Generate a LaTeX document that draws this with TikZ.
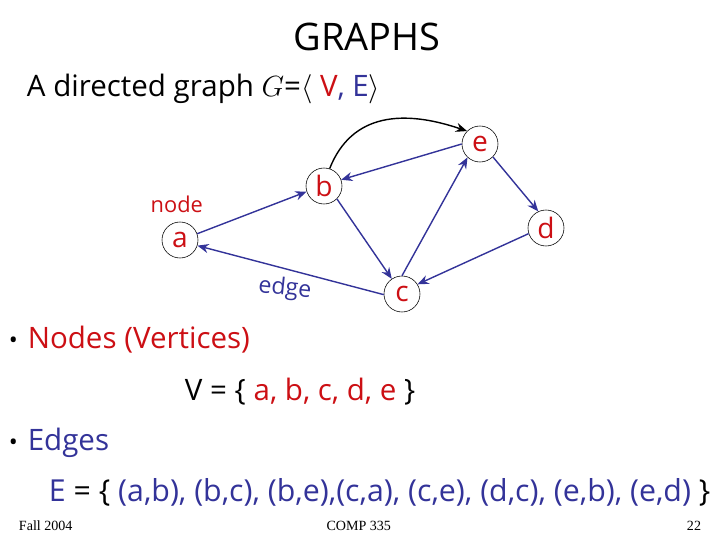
\documentclass[tikz,border=0pt]{standalone}
\usepackage{fontspec}
\setmainfont{Open Sans}
\newfontfamily\footfont{Liberation Serif}
\usetikzlibrary{arrows.meta}
\definecolor{nodered}{HTML}{CC0F14}
\definecolor{edgeblue}{HTML}{333399}
\newcommand{\fsize}[1]{\fontsize{#1}{#1}\selectfont}
\begin{document}
\begin{tikzpicture}[
    vertex/.style={draw,circle,inner sep=0pt,minimum size=0.9cm,text=nodered,font=\fsize{20}},
    edge/.style={-{Stealth[length=8pt,width=6.5pt]},line width=1pt,edgeblue},
    bigline/.style={anchor=west,font=\fsize{21}},
    foot/.style={font=\footfont\fsize{10}}
  ]
    \useasboundingbox (0,0) rectangle (18,13.5);
    % Headings
    \node[font=\fsize{27}] (title) at (9.17,12.58) {GRAPHS};
    \node[bigline] (intro) at (0.55,11.27) {A directed graph $G$=$\langle$ \textcolor{nodered}{V}\textcolor{edgeblue}{, E}$\rangle$};

    % Vertices
    \node[vertex] (a) at (4.5,7.5) {a};
    \node[vertex] (b) at (8.1,8.85) {b};
    \node[vertex] (c) at (10.05,6.15) {c};
    \node[vertex] (e) at (12,9.9) {e};
    \node[vertex] (d) at (13.65,7.8) {d};

    % Labels on the graph
    \node[font=\fsize{15.5},text=nodered] (nodelabel) at (4.42,8.4) {node};
    \node[font=\fsize{16.5},text=edgeblue,rotate=-6] (edgelabel) at (7.12,6.28) {edge};

    % Edges
    \draw[edge] (a.20) -- (b.198);
    \draw[edge] (b.-45) -- (c.124);
    \draw[edge] (c.182) -- (a.-18);
    \draw[edge] (c.90) -- (e.227);
    \draw[edge] (d.198) -- (c.32);
    \draw[edge] (e.180) -- (b.20);
    \draw[edge] (e.-45) -- (d.115);
    \draw[-{Stealth[length=8pt,width=6.5pt]},line width=1pt] (b.72) .. controls (8.8,10.7) and (10.125,10.75) .. (e.135);

    % Sets
    \node[bigline,text=nodered] (nodes) at (0.1,5.0) {{\color{black}\fsize{17}\textbullet}\hspace{7pt}Nodes (Vertices)};
    \node[bigline] (vset) at (4.5,3.72) {V = \{ \textcolor{nodered}{a, b, c, d, e} \}};
    \node[bigline,text=edgeblue] (edges) at (0.1,2.43) {{\color{black}\fsize{17}\textbullet}\hspace{7pt}Edges};
    \node[bigline,font=\fsize{21.55}] (eset) at (1.1,1.2) {\textcolor{edgeblue}{E} = \{ \textcolor{edgeblue}{(a,b), (b,c), (b,e),(c,a), (c,e), (d,c), (e,b), (e,d)} \}};

    % Footer
    \node[foot,anchor=west] (fall) at (0.35,0.35) {Fall 2004};
    \node[foot] (course) at (8.97,0.35) {COMP 335};
    \node[foot] (page) at (17.35,0.35) {22};
  \end{tikzpicture}
\end{document}
